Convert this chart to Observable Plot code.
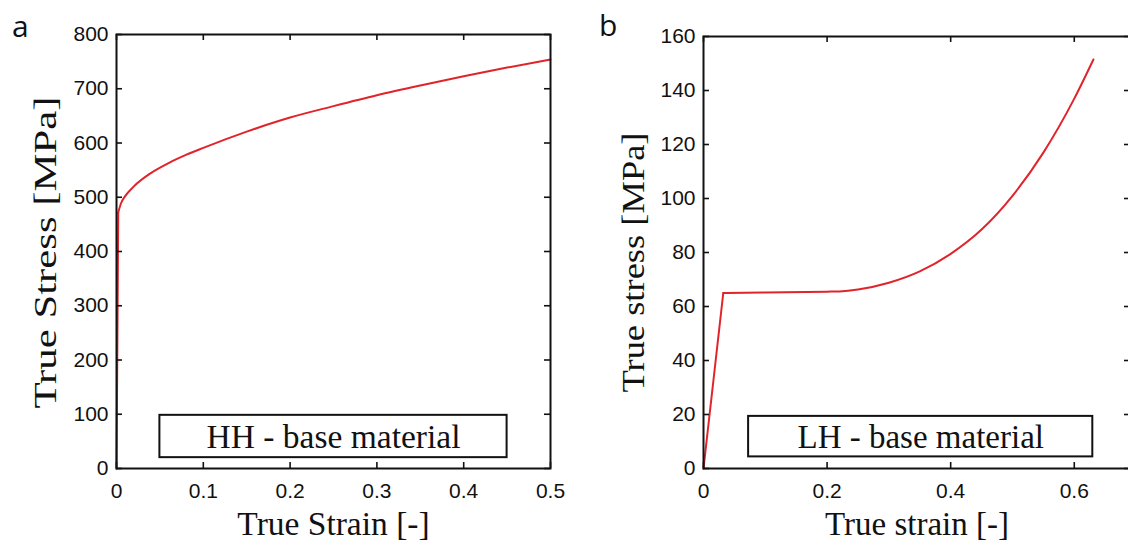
<!DOCTYPE html>
<html>
<head>
<meta charset="utf-8">
<script src="https://cdn.jsdelivr.net/npm/d3@7"></script>
<script src="https://cdn.jsdelivr.net/npm/@observablehq/plot@0.6"></script>
<style>
  html, body { margin: 0; padding: 0; background: #fff; overflow: hidden; }
  #wrap { position: relative; width: 1128px; height: 541px; overflow: hidden; background: #fff; }
  #wrap svg { position: absolute; top: 0; max-width: none !important; }
  .plabel { position: absolute; font-family: "Open Sans", sans-serif; font-size: 30px; color: #111; line-height: 1; }
</style>
</head>
<body>
<div id="wrap">
  <div class="plabel" style="left:12px; top:11px;">a</div>
  <div class="plabel" style="left:599px; top:10px;">b</div>
</div>
<script>
// Panel a: HH - base material
const strainA = [0, 0.002, 0.005, 0.01, 0.02, 0.04, 0.06, 0.08, 0.1, 0.15, 0.2, 0.25, 0.3, 0.35, 0.4, 0.45, 0.5];
const stressA = [0, 472, 488, 502, 520, 545, 563, 578, 591, 621, 647, 668, 688, 706, 723, 739, 754];
const xTicksA = [0, 0.1, 0.2, 0.3, 0.4, 0.5];
const yTicksA = [0, 100, 200, 300, 400, 500, 600, 700, 800];

// Panel b: LH - base material
const strainB = [0, 0.032, 0.1, 0.2, 0.22, 0.25, 0.3, 0.35, 0.4, 0.45, 0.5, 0.55, 0.6, 0.631];
const stressB = [0, 65, 65.2, 65.5, 65.6, 66.3, 68.8, 73, 79.5, 88.5, 101, 117, 137, 151.5];
const xTicksB = [0, 0.2, 0.4, 0.6];
const yTicksB = [0, 20, 40, 60, 80, 100, 120, 140, 160];

const HEIGHT = 541;
const MB = 73;
const RED = "#e0242a";
const SANS = "'Liberation Sans', Arial, sans-serif";
const SERIF = "'Liberation Serif', 'Times New Roman', serif";

function panel(cfg) {
  const data = cfg.xs.map((x, i) => ({x, y: cfg.ys[i]}));
  const innerH = HEIGHT - cfg.marginTop - MB;
  const innerW = cfg.width - cfg.marginLeft - cfg.marginRight;
  const TL = 6;
  const box = cfg.box;
  const svg = Plot.plot({
    width: cfg.width,
    height: HEIGHT,
    marginLeft: cfg.marginLeft,
    marginRight: cfg.marginRight,
    marginTop: cfg.marginTop,
    marginBottom: MB,
    style: {background: "transparent", color: "#111", overflow: "visible"},
    x: {domain: cfg.xDomain, label: null},
    y: {domain: cfg.yDomain, label: null},
    marks: [
      Plot.rect([box], {x1: "x1", x2: "x2", y1: "y1", y2: "y2", fill: "white", stroke: "#111", strokeWidth: 2}),
      Plot.text([box], {x: d => (d.x1 + d.x2) / 2, y: d => (d.y1 + d.y2) / 2, text: "text", fontSize: cfg.boxFont, fontFamily: SERIF, fill: "#111", dy: 1}),
      // elastic (straight) part, then smooth hardening part
      Plot.line(data.slice(0, 2), {x: "x", y: "y", stroke: RED, strokeWidth: 2}),
      Plot.line(data.slice(1), {x: "x", y: "y", stroke: RED, strokeWidth: 2, curve: "monotone-x"}),
      // inward ticks on all four sides
      Plot.tickX(cfg.xTicks, {x: d => d, insetTop: innerH - TL, stroke: "#111", strokeWidth: 1.6}),
      Plot.tickX(cfg.xTicks, {x: d => d, insetBottom: innerH - TL, stroke: "#111", strokeWidth: 1.6}),
      Plot.tickY(cfg.yTicks, {y: d => d, insetRight: innerW - TL, stroke: "#111", strokeWidth: 1.6}),
      Plot.tickY(cfg.yTicks, {y: d => d, insetLeft: innerW - TL, stroke: "#111", strokeWidth: 1.6}),
      Plot.frame({stroke: "#111", strokeWidth: 2}),
      Plot.axisX(cfg.xTicks, {tickSize: 0, tickPadding: 15, fontSize: 21, fontFamily: SANS, tickFormat: d => String(d), label: null}),
      Plot.axisY(cfg.yTicks, {tickSize: 0, tickPadding: 8, fontSize: 21, fontFamily: SANS, tickFormat: d => String(d), label: null}),
      Plot.text([cfg.xLabel], {frameAnchor: "bottom", lineAnchor: "middle", textAnchor: "middle", dy: 56, fontSize: cfg.xTitleFont, fontFamily: SERIF, fill: "#111"}),
      Plot.text([cfg.yLabel], {frameAnchor: "left", lineAnchor: "middle", textAnchor: "middle", dx: cfg.yTitleDx, dy: cfg.yTitleDy, rotate: -90, fontSize: 32, fontFamily: SERIF, fill: "#111"})
    ]
  });
  // the reference's y titles are stretched along their baseline
  d3.select(svg).selectAll("text")
    .filter(function () { return this.textContent === cfg.yLabel; })
    .attr("textLength", cfg.yTitleLen)
    .attr("lengthAdjust", "spacingAndGlyphs");
  return svg;
}

const a = panel({
  xs: strainA, ys: stressA,
  xDomain: [0, 0.5], yDomain: [0, 800],
  xTicks: xTicksA, yTicks: yTicksA,
  width: 560, marginLeft: 116, marginRight: 10, marginTop: 34,
  box: {x1: 0.05, x2: 0.45, y1: 20, y2: 98, text: "HH - base material"},
  boxFont: 33.5, xTitleFont: 33.5,
  xLabel: "True Strain [-]", yLabel: "True Stress [MPa]",
  yTitleDx: -71, yTitleDy: 1, yTitleLen: 312
});
a.style.left = "0px";

const b = panel({
  xs: strainB, ys: stressB,
  xDomain: [0, 0.691], yDomain: [0, 160],
  xTicks: xTicksB, yTicks: yTicksB,
  width: 570, marginLeft: 143, marginRight: 0, marginTop: 36,
  box: {x1: 0.073, x2: 0.63, y1: 4.3, y2: 19.3, text: "LH - base material"},
  boxFont: 33, xTitleFont: 33,
  xLabel: "True strain [-]", yLabel: "True stress [MPa]",
  yTitleDx: -70, yTitleDy: 10, yTitleLen: 260
});
b.style.left = "560px";

const wrap = document.getElementById("wrap");
wrap.appendChild(a);
wrap.appendChild(b);
</script>
</body>
</html>
